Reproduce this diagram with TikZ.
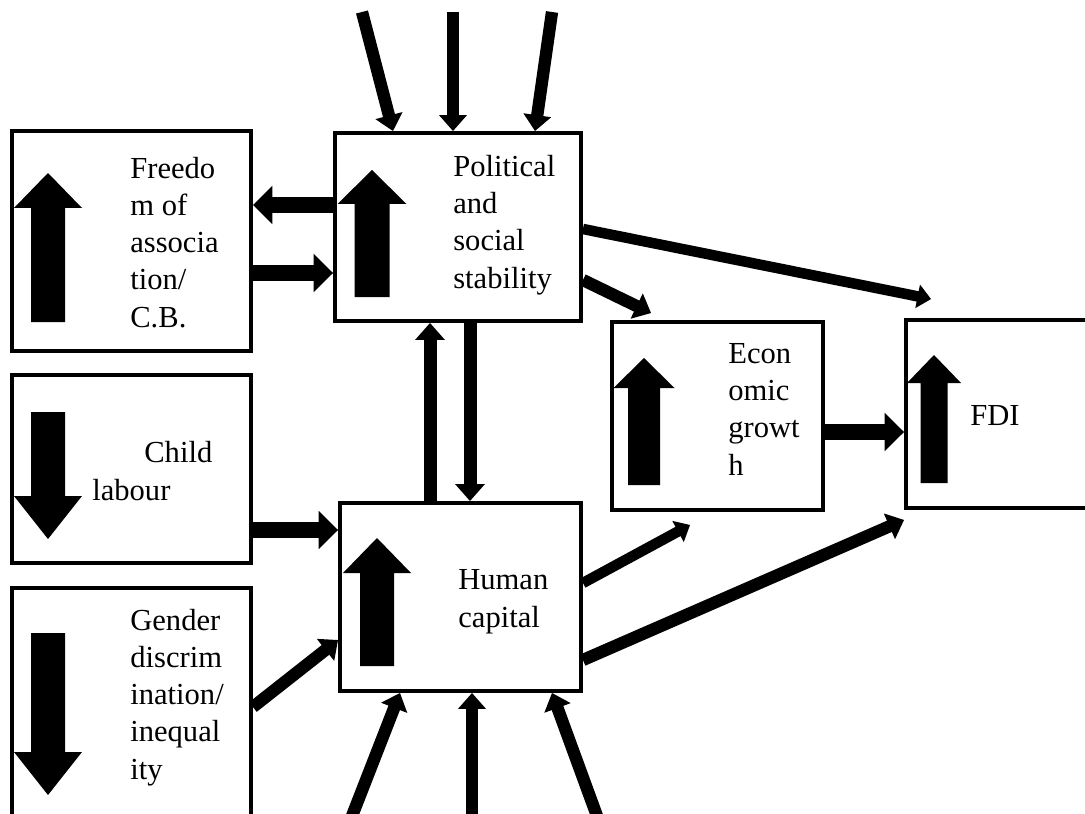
\documentclass[tikz,border=0pt]{standalone}
\usepackage{fontspec}
\setmainfont{Liberation Serif}
\usetikzlibrary{arrows.meta, fit, calc, positioning}
\tikzset{
    box/.style={draw, line width=2.2pt, inner sep=0pt}, % the seven frames
    txt/.style={anchor=base west, align=left, inner sep=0pt,
        font=\fontsize{17.4}{21.2}\selectfont}, % base = last line
    link/.style={line width=7pt, % Thick black connectors
        -{Triangle[length=0pt 1.3, width=0pt 2.2]}},
    biglink/.style={link, line width=9.2pt, -{Triangle[length=0pt 1.2, width=0pt 2.3]}}}
% filled up/down arrow: x, tip y, head base y, end y, half shaft, half head
\newcommand{\blockarrow}[6]{%
    \fill (#1,#2) -- (#1+#6,#3) -- (#1+#5,#3) -- (#1+#5,#4)
        -- (#1-#5,#4) -- (#1-#5,#3) -- (#1-#6,#3) -- cycle;}

\begin{document}
\begin{tikzpicture}[x=0.02cm, y=-0.02cm]
    \useasboundingbox (0,0) rectangle (1085,814);
    \clip (0,0) rectangle (1085,814);

    % Boxes
    \node[box, fit={(12,131) (251,351)}] (free) {};
    \node[box, fit={(335,133) (581,321)}] (pol) {};
    \node[box, fit={(612,322) (823,510)}] (econ) {};
    \node[box, fit={(906,320) (1100,508)}] (fdi) {};
    \node[box, fit={(12,375) (251,563)}] (child) {};
    \node[box, fit={(340,503) (581,691)}] (hum) {};
    \node[box, fit={(12,588) (251,840)}] (gen) {};

    % Labels
    \node[txt] (freetxt) at (130,327) {Freedo\\m of\\associa\\tion/\\C.B.};
    \node[txt] (poltxt) at (453,288) {Political\\and\\social\\stability};
    \node[txt] (econtxt) at (728,475) {Econ\\omic\\growt\\h};
    \node[txt] (fditxt) at (970,425) {FDI};
    \node[txt] (childtxt) at (92,500) {\hspace*{1.04cm}Child\\labour};
    \node[txt] (humtxt) at (458,627) {Human\\capital};
    \node[txt] (gentxt) at (130,779) {Gender\\discrim\\ination/\\inequal\\ity};

    % Up and down block arrows
    \blockarrow{48}{173}{208}{322}{17}{34}
    \blockarrow{372}{170}{204}{297}{17.5}{34.5}
    \blockarrow{644}{358}{388}{485}{16}{30.5}
    \blockarrow{934}{355}{383}{483}{13.5}{27}
    \blockarrow{377}{538}{573}{666}{17}{34}
    \blockarrow{48}{539}{496}{412}{17}{34}
    \blockarrow{48}{795}{752}{633}{17}{34}

    % Outside influences
    \coordinate (top1) at (362,12);
    \coordinate (top2) at (453,12);
    \coordinate (top3) at (552,12);
    \coordinate (bot1) at (352,816);
    \coordinate (bot2) at (472,816);
    \coordinate (bot3) at (597,816);
    \draw[link] (top1) -- (pol.north -| 393,0);
    \draw[link] (top2) -- (pol.north -| 453,0);
    \draw[link] (top3) -- (pol.north -| 535,0);
    \draw[link] (bot1) -- (hum.south -| 400,0);
    \draw[link] (bot2) -- (hum.south -| 472,0);
    \draw[link] (bot3) -- (hum.south -| 552,0);

    % Links between the boxes
    \draw[biglink] (pol.west |- 0,205) -- (free.east |- 0,205);
    \draw[biglink] (free.east |- 0,273) -- (pol.west |- 0,273);
    \draw[link, line width=6pt] (pol.east |- 0,229) -- ($(fdi.north west)+(27,-19)$);
    \draw[link] (pol.east |- 0,280) -- ($(econ.north west)+(41,-7)$);
    \draw[link, line width=7.4pt] (hum.north -| 430,0) -- (pol.south -| 430,0);
    \draw[link, line width=7.4pt] (pol.south -| 470,0) -- (hum.north -| 470,0);
    \draw[biglink] (child.east |- 0,530) -- (hum.west |- 0,530);
    \draw[link] (gen.east |- 0,707) -- (hum.west |- 0,640);
    \draw[link, line width=6pt] (hum.east |- 0,583) -- ($(econ.south west)+(80,13)$);
    \draw[link] (hum.east |- 0,660) -- ($(fdi.south west)+(0,10)$);
    \draw[biglink] (econ.east |- 0,432) -- (fdi.west |- 0,432);
\end{tikzpicture}
\end{document}
